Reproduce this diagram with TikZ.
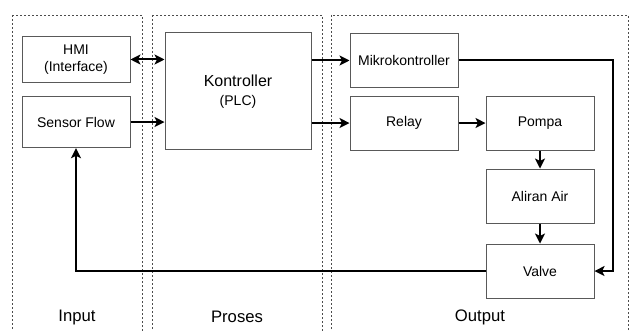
\documentclass[tikz,border=0pt]{standalone}
\usepackage{fontspec}
\setmainfont{Liberation Sans}
\usetikzlibrary{shapes,arrows.meta}
\tikzstyle{block} = [draw=black!65, line width=0.75pt, rectangle, minimum height=40.5pt, minimum
width=81pt, inner sep=0pt, align=center, font=\fontsize{10.5}{12.75}\selectfont]
\tikzstyle{arrow} = [line width=1.5pt, ->, >={Stealth[length=7.5pt,width=7.5pt,inset=1.8pt]}]
\tikzstyle{group} = [draw=black!70, line width=0.6pt, dash pattern=on 1.5pt off 1.5pt]
\tikzstyle{title} = [font=\fontsize{12.5}{15}\selectfont]

\begin{document}
\begin{tikzpicture}[auto, x=0.75pt, y=-0.75pt]
\useasboundingbox (0,0) rectangle (630,331);

% Place groups
\draw [group] (12,15) rectangle (142,340);
\draw [group] (152,15) rectangle (322,340);
\draw [group] (331,15) rectangle (628,340);
\node [title](inlabel) at (77,317){Input};
\node [title](proslabel) at (237,317){Proses};
\node [title](outlabel) at (480,317){Output};

% Place nodes
\node [block, minimum height=35pt](hmi) at (76,59.5){HMI\\(Interface)};
\node [block, below of=hmi, node distance=46.9pt, minimum height=38.5pt](sensor){Sensor Flow};
\node [block, right of=hmi, node distance=121.5pt, yshift=-24pt, minimum width=109.5pt,
minimum height=87.75pt](plc){{\fontsize{12}{14}\selectfont Kontroller}\\[1pt](PLC)};
\node [block, right of=plc, node distance=124.5pt, yshift=23.25pt](mikro){Mikrokontroller};
\node [block, below of=mikro, node distance=46.9pt](relay){Relay};
\node [block, right of=relay, node distance=102pt](pompa){Pompa};
\node [block, below of=pompa, node distance=54.75pt](aliran){Aliran Air};
\node [block, below of=aliran, node distance=56.25pt](valve){Valve};

% Place lines
\draw [arrow, <->] (hmi.east) -- (hmi.east -| plc.west);
\draw [arrow] (sensor.east) -- (sensor.east -| plc.west);
\draw [arrow] (plc.east |- mikro.west) -- (mikro.west);
\draw [arrow] (plc.east |- relay.west) -- (relay.west);
\draw [arrow] (relay) -- (pompa);
\draw [arrow] (pompa) -- (aliran);
\draw [arrow] (aliran) -- (valve);
\draw [arrow] (mikro.east) -- ++(115.5pt,0) |- (valve.east);
\draw [arrow] (valve.west) -| (sensor.south);

\end{tikzpicture}
\end{document}
